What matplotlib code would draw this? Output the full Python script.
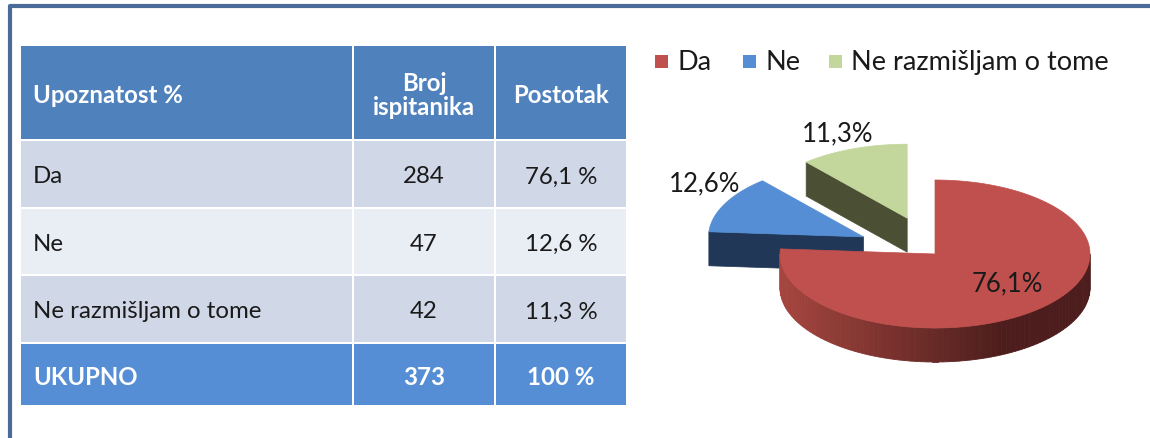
import numpy as np
import matplotlib.pyplot as plt
from matplotlib.patches import Rectangle, Polygon
from matplotlib.colors import to_rgb

plt.rcParams["font.family"] = ["Lato", "DejaVu Sans"]

# data
header = ["Upoznatost %", "Broj\nispitanika", "Postotak"]
answers = ["Da", "Ne", "Ne razmišljam o tome"]
counts = [284, 47, 42]
percents = [76.1, 12.6, 11.3]
total_label = "UKUPNO"
total_count = 373
total_percent = 100

# styles
top_colors = ["#c0504d", "#558ed5", "#c3d69b"]
side_colors = [("#a6463f", "#4c1d1c"), ("#203757", "#203757"), ("#4b5035", "#4b5035")]
explode = [0, 80, 80]
label_pos = [(1007, 284), (705, 184), (838, 134)]
row_colors = ["#d0d8e8", "#e9edf4", "#d0d8e8"]
header_color = "#4f81bd"
total_color = "#558ed5"


def fmt(v):
    return f"{v:.1f}".replace(".", ",")


fig = plt.figure(figsize=(11.5, 4.39), dpi=100)
ax = fig.add_axes([0, 0, 1, 1])
ax.set_xlim(0, 1150)
ax.set_ylim(439, 0)
ax.axis("off")

# outer frame
ax.plot([10, 10, 1150], [439, 7, 7], color="#4a6a98", lw=3, solid_capstyle="butt")

# ---- table ----
col_x = [20, 353, 495, 627]
row_y = [46, 141, 209, 276, 344, 407]
gap = 1.2

rows = [header]
for a, c, p in zip(answers, counts, percents):
    rows.append([a, str(c), fmt(p) + " %"])
rows.append([total_label, str(total_count), f"{total_percent} %"])
fills = [header_color] + row_colors + [total_color]

for r, row in enumerate(rows):
    y0, y1 = row_y[r], row_y[r + 1]
    bold = r == 0 or r == len(rows) - 1
    tcolor = "white" if bold else "#1a1a1a"
    for c, txt in enumerate(row):
        x0, x1 = col_x[c], col_x[c + 1]
        ax.add_patch(Rectangle((x0 + gap, y0 + gap), x1 - x0 - 2 * gap, y1 - y0 - 2 * gap,
                               facecolor=fills[r], edgecolor="none"))
        if c == 0:
            ax.text(x0 + 13, (y0 + y1) / 2 + 2, txt, ha="left", va="center", fontsize=17.3,
                    color=tcolor, fontweight="bold" if bold else "normal")
        else:
            ax.text((x0 + x1) / 2, (y0 + y1) / 2 + 2, txt, ha="center", va="center", fontsize=17.3,
                    color=tcolor, fontweight="bold" if bold else "normal", linespacing=1.05)

# ---- legend ----
leg_x = [655, 743, 829]
for x, lab, col in zip(leg_x, answers, top_colors):
    ax.add_patch(Rectangle((x, 56), 13, 13, facecolor=col, edgecolor="none"))
    ax.text(x + 22, 62.5, lab, ha="left", va="center", fontsize=19.5, color="#1a1a1a")

# ---- 3D pie ----
cx, cy, rx, ry, depth = 935, 255, 155, 74, 34
fracs = np.array(percents) / sum(percents)
starts = 90 - 360 * np.concatenate([[0], np.cumsum(fracs)[:-1]])
ends = starts - 360 * fracs


def rim(ox, oy, th, dz=0):
    t = np.radians(th)
    return ox + rx * np.cos(t), oy - ry * np.sin(t) + dz


def blend(c0, c1, t):
    a, b = np.array(to_rgb(c0)), np.array(to_rgb(c1))
    return tuple(a * (1 - t) + b * t)


for i in [2, 1, 0]:
    s, e = starts[i], ends[i]
    mid = np.radians((s + e) / 2)
    ox = cx + explode[i] * np.cos(mid)
    oy = cy - explode[i] * np.sin(mid) * ry / rx
    c_left, c_right = side_colors[i]

    # radial faces
    for th, vis in [(s, np.cos(np.radians(s)) < -1e-6), (e, np.cos(np.radians(e)) > 1e-6)]:
        if vis:
            px, py = rim(ox, oy, th)
            face = [(ox, oy), (px, py), (px, py + depth), (ox, oy + depth)]
            ax.add_patch(Polygon(face, closed=True, facecolor=c_left, edgecolor=c_left, lw=0.5))

    # outer wall (front part only)
    lo, hi = max(e, -180), min(s, 0)
    if hi > lo:
        ths = np.linspace(lo, hi, 90)
        for a0, a1 in zip(ths[:-1], ths[1:]):
            x0, y0 = rim(ox, oy, a0)
            x1, y1 = rim(ox, oy, a1)
            t = ((x0 + x1) / 2 - (ox - rx)) / (2 * rx)
            col = blend(c_left, c_right, min(1.0, t / 0.72))
            ax.add_patch(Polygon([(x0, y0), (x1, y1), (x1, y1 + depth), (x0, y0 + depth)],
                                 closed=True, facecolor=col, edgecolor=col, lw=0.6))

    # top face
    ths = np.linspace(s, e, 120)
    pts = [(ox, oy)] + [rim(ox, oy, th) for th in ths]
    ax.add_patch(Polygon(pts, closed=True, facecolor=top_colors[i], edgecolor=top_colors[i], lw=0.5))

for (x, y), p in zip(label_pos, percents):
    ax.text(x, y, fmt(p) + "%", ha="center", va="center", fontsize=18.5, color="#1a1a1a")

fig.savefig("out.png", dpi=100)
